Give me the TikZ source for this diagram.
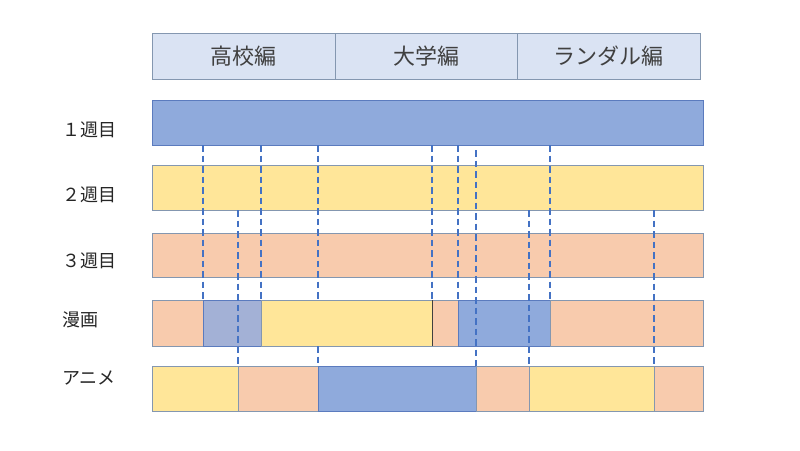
\documentclass[tikz,border=0pt]{standalone}
\usepackage{fontspec}
\setmainfont{Noto Sans CJK JP}
\begin{document}
\begin{tikzpicture}[x=1pt,y=-1pt,
  every node/.style={inner sep=0pt,outer sep=0pt},
  seg/.style={draw=#1,line width=0.8pt,anchor=north west},
  cblue/.style={fill=barblue,seg=edgeblue},
  cyellow/.style={fill=baryellow,seg=edgegray},
  csalmon/.style={fill=barsalmon,seg=edgegray},
  cgray/.style={fill=bargray,seg=edgeblue},
  hdr/.style={fill=hdrfill,draw=edgegray,line width=0.8pt,anchor=north west,minimum height=46pt,font=\fontsize{22}{26}\selectfont,text=txt},
  lbl/.style={anchor=west,font=\fontsize{18}{21}\selectfont,text=txtdark},
  guide/.style={draw=dashblue,line width=1.8pt,dash pattern=on 6.5pt off 4pt}]
\definecolor{barblue}{HTML}{8FAADC}
\definecolor{baryellow}{HTML}{FFE699}
\definecolor{barsalmon}{HTML}{F8CBAD}
\definecolor{bargray}{HTML}{A3B1D6}
\definecolor{hdrfill}{HTML}{DAE3F3}
\definecolor{edgeblue}{HTML}{5B7BBE}
\definecolor{edgegray}{HTML}{8497B0}
\definecolor{dashblue}{HTML}{4472C4}
\definecolor{txt}{HTML}{404040}
\definecolor{txtdark}{HTML}{262626}
\useasboundingbox[fill=white] (0,0) rectangle (800,450);

% header
\node[hdr,minimum width=183pt] (h1) at (152,33) {高校編};
\node[hdr,minimum width=182pt] (h2) at (335,33) {大学編};
\node[hdr,minimum width=183pt] (h3) at (517,33) {ランダル編};

% labels
\node[lbl] (l1) at (62,130) {１週目};
\node[lbl] (l2) at (62,195) {２週目};
\node[lbl] (l3) at (62,261) {３週目};
\node[lbl] (l4) at (62,320) {漫画};
\node[lbl] (l5) at (62,378) {アニメ};

% week bars
\node[cblue,minimum width=551pt,minimum height=45pt] (w1) at (152,100) {};
\node[cyellow,minimum width=551pt,minimum height=45pt] (w2) at (152,165) {};
\node[csalmon,minimum width=551pt,minimum height=44pt] (w3) at (152,233) {};

% manga
\node[csalmon,minimum width=51pt,minimum height=46pt] (m1) at (152,300) {};
\node[cgray,minimum width=58pt,minimum height=46pt] (m2) at (203,300) {};
\node[cyellow,minimum width=171pt,minimum height=46pt] (m3) at (261,300) {};
\node[csalmon,minimum width=26pt,minimum height=46pt] (m4) at (432,300) {};
\node[cblue,minimum width=92pt,minimum height=46pt] (m5) at (458,300) {};
\node[csalmon,minimum width=153pt,minimum height=46pt] (m6) at (550,300) {};
\draw[black!75,line width=0.9pt] (m3.north east) -- (m3.south east);

% anime
\node[cyellow,minimum width=86pt,minimum height=45pt] (a1) at (152,366) {};
\node[csalmon,minimum width=80pt,minimum height=45pt] (a2) at (238,366) {};
\node[cblue,minimum width=158pt,minimum height=45pt] (a3) at (318,366) {};
\node[csalmon,minimum width=53pt,minimum height=45pt] (a4) at (476,366) {};
\node[cyellow,minimum width=125pt,minimum height=45pt] (a5) at (529,366) {};
\node[csalmon,minimum width=49pt,minimum height=45pt] (a6) at (654,366) {};

% dashed guides
\draw[guide] (w1.south west -| m2.north west) -- (m2.north west);
\draw[guide] (w2.south west -| a2.north west) -- (a2.north west);
\draw[guide] (w1.south west -| m3.north west) -- (m3.north west);
\draw[guide] (w1.south west -| a3.north west) -- (m3.north west -| a3.north west);
\draw[guide] (m3.south west -| a3.north west) -- (a3.north west);
\draw[guide] (w1.south west -| m4.north west) -- (m4.north west);
\draw[guide] (w1.south west -| m5.north west) -- (m5.north west);
\coordinate (t7) at ([yshift=-5pt]w1.south west -| a4.north west);
\draw[guide] (t7) -- (a4.north west);
\draw[guide] (w2.south west -| a5.north west) -- (a5.north west);
\draw[guide] (w1.south west -| m6.north west) -- (m6.north west);
\draw[guide] (w2.south west -| a6.north west) -- (a6.north west);
\end{tikzpicture}
\end{document}
